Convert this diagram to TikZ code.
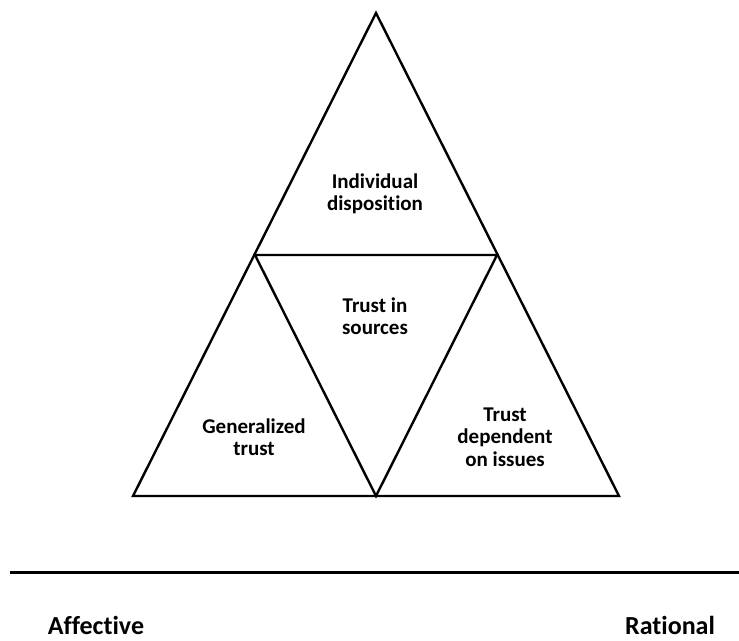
\documentclass[tikz,border=0pt]{standalone}
\usepackage{fontspec}
\setmainfont[Ligatures=NoCommon]{Carlito}
\begin{document}
\begin{tikzpicture}[x=1pt,y=-1pt,
  edge/.style={line width=2.4pt, line join=miter},
  lbl/.style={font=\fontsize{21}{22.5}\selectfont\bfseries, align=center, inner sep=0pt},
  axislbl/.style={font=\fontsize{26}{28}\selectfont\bfseries, inner sep=0pt, anchor=base}]
\useasboundingbox (0,0) rectangle (739,640);
\coordinate (apex) at (376,13);
\coordinate (ml) at (255,255);
\coordinate (mr) at (497,255);
\coordinate (bl) at (133,496);
\coordinate (bm) at (376,496);
\coordinate (br) at (619,496);
\draw[edge] (apex) -- (bl) -- (br) -- cycle;
\draw[edge] (ml) -- (mr) -- (bm) -- cycle;
\node[lbl] (indiv) at (375,194) {Individual\\disposition};
\node[lbl] (sources) at (375,316) {Trust in\\sources};
\node[lbl] (general) at (254,437) {Generalized\\trust};
\node[lbl] (issues) at (505,437) {Trust\\dependent\\on issues};
\coordinate (axl) at (10,572);
\coordinate (axr) at (739,572);
\draw[line width=3pt] (axl) -- (axr);
\node[axislbl] (aff) at (96,634) {Affective};
\node[axislbl] (rat) at (670,634) {Rational};
\end{tikzpicture}
\end{document}
